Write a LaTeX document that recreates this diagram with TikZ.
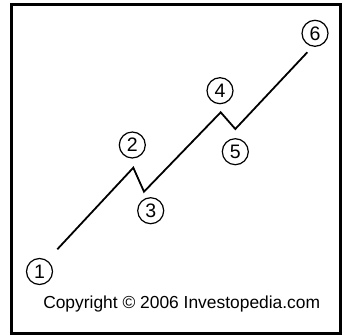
\documentclass[tikz,border=0pt]{standalone}
\usepackage{fontspec}
\setmainfont{Liberation Sans}
\begin{document}
\begin{tikzpicture}[x=1pt,y=-1pt,
  frame/.style={draw=black,line width=3pt},
  wave/.style={draw=black,line width=1.8pt,line join=miter},
  num/.style={circle,draw=black,line width=1.2pt,minimum size=26pt,inner sep=0pt,font=\fontsize{19.5}{20}\selectfont},
  copy/.style={font=\fontsize{17.4}{18}\selectfont,anchor=base,inner sep=0pt}]
\useasboundingbox (0,0) rectangle (344,334);
\draw[frame] (11.5,4.5) rectangle (340.5,333.5);
\coordinate (p1) at (57.3,249.3);
\coordinate (p2) at (133.3,167.7);
\coordinate (p3) at (144,191.7);
\coordinate (p4) at (220.7,112.3);
\coordinate (p5) at (235.3,129);
\coordinate (p6) at (307.3,52.3);
\draw[wave] (p1) -- (p2) -- (p3) -- (p4) -- (p5) -- (p6);
\node[num] (n1) at (39.5,271.5) {1};
\node[num] (n2) at (132.3,145) {2};
\node[num] (n3) at (150.7,210.7) {3};
\node[num] (n4) at (220,90.7) {4};
\node[num] (n5) at (235.3,151.7) {5};
\node[num] (n6) at (315,33.3) {6};
\node[copy] (cr) at (181.7,308.5) {Copyright \textcopyright{} 2006 Investopedia.com};
\end{tikzpicture}
\end{document}
